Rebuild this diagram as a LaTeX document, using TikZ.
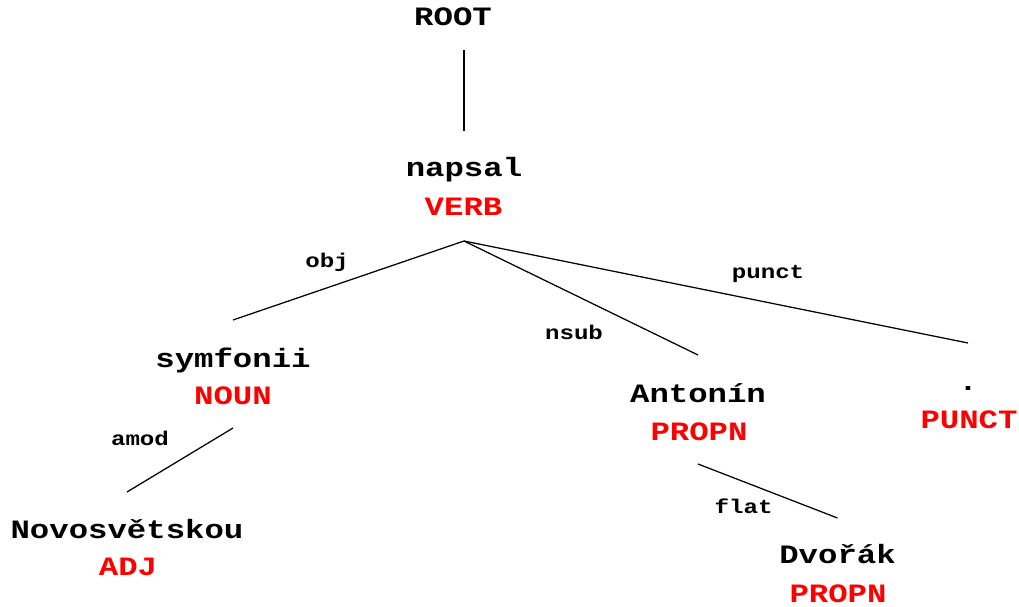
\documentclass[tikz,border=0pt]{standalone}
\usepackage{fontspec}
\usetikzlibrary{calc}
\newfontfamily\tok[FakeStretch=1.22]{Liberation Mono}
\begin{document}
\begin{tikzpicture}[x=1pt,y=-1pt,
  word/.style={font=\tok\bfseries\fontsize{26.5}{26.5}\selectfont, inner sep=0pt, anchor=base},
  postag/.style={word, text=red},
  deprel/.style={font=\tok\bfseries\fontsize{19.8}{20}\selectfont, inner sep=0pt, anchor=base},
  conn/.style={line width=1.25pt}]
\useasboundingbox[fill=white] (0,0) rectangle (1019,607);
% tokens
\node[word] (root) at (453,26) {ROOT};
\node[word] (napsal) at (464,176) {napsal};
\node[postag] (verb) at (463.5,215) {VERB};
\node[word] (symfonii) at (233,367) {symfonii};
\node[postag] (noun) at (233,404) {NOUN};
\node[word] (antonin) at (698,402) {Antonín};
\node[postag] (propnA) at (699,440) {PROPN};
\node[word] (dot) at (968,390) {.};
\node[postag] (punct) at (969,428) {PUNCT};
\node[word] (novo) at (127,538) {Novosvětskou};
\node[postag] (adj) at (128,575) {ADJ};
\node[word] (dvorak) at (837.5,563) {Dvořák};
\node[postag] (propnD) at (838,602) {PROPN};
% relations
\node[deprel] (lobj) at (327,267) {obj};
\node[deprel] (lnsub) at (574,339) {nsub};
\node[deprel] (lpunct) at (768,278) {punct};
\node[deprel] (lamod) at (140,445) {amod};
\node[deprel] (lflat) at (743.5,513) {flat};
% connectors
\draw[conn] ($(napsal.base |- root.base)+(0,24)$) -- ($(napsal.base)+(0,-45)$);
\draw[conn] ($(verb.base -| napsal.base)+(0,26)$) -- ($(symfonii.base)+(0,-47)$);
\draw[conn] ($(verb.base -| napsal.base)+(0,26)$) -- ($(antonin.base)+(0,-47)$);
\draw[conn] ($(verb.base -| napsal.base)+(0,26)$) -- ($(dot.base)+(0,-47)$);
\draw[conn] ($(noun.base -| symfonii.base)+(0,24)$) -- ($(novo.base)+(0,-46)$);
\draw[conn] ($(propnA.base -| antonin.base)+(0,24)$) -- ($(dvorak.base)+(0,-45)$);
\end{tikzpicture}
\end{document}
